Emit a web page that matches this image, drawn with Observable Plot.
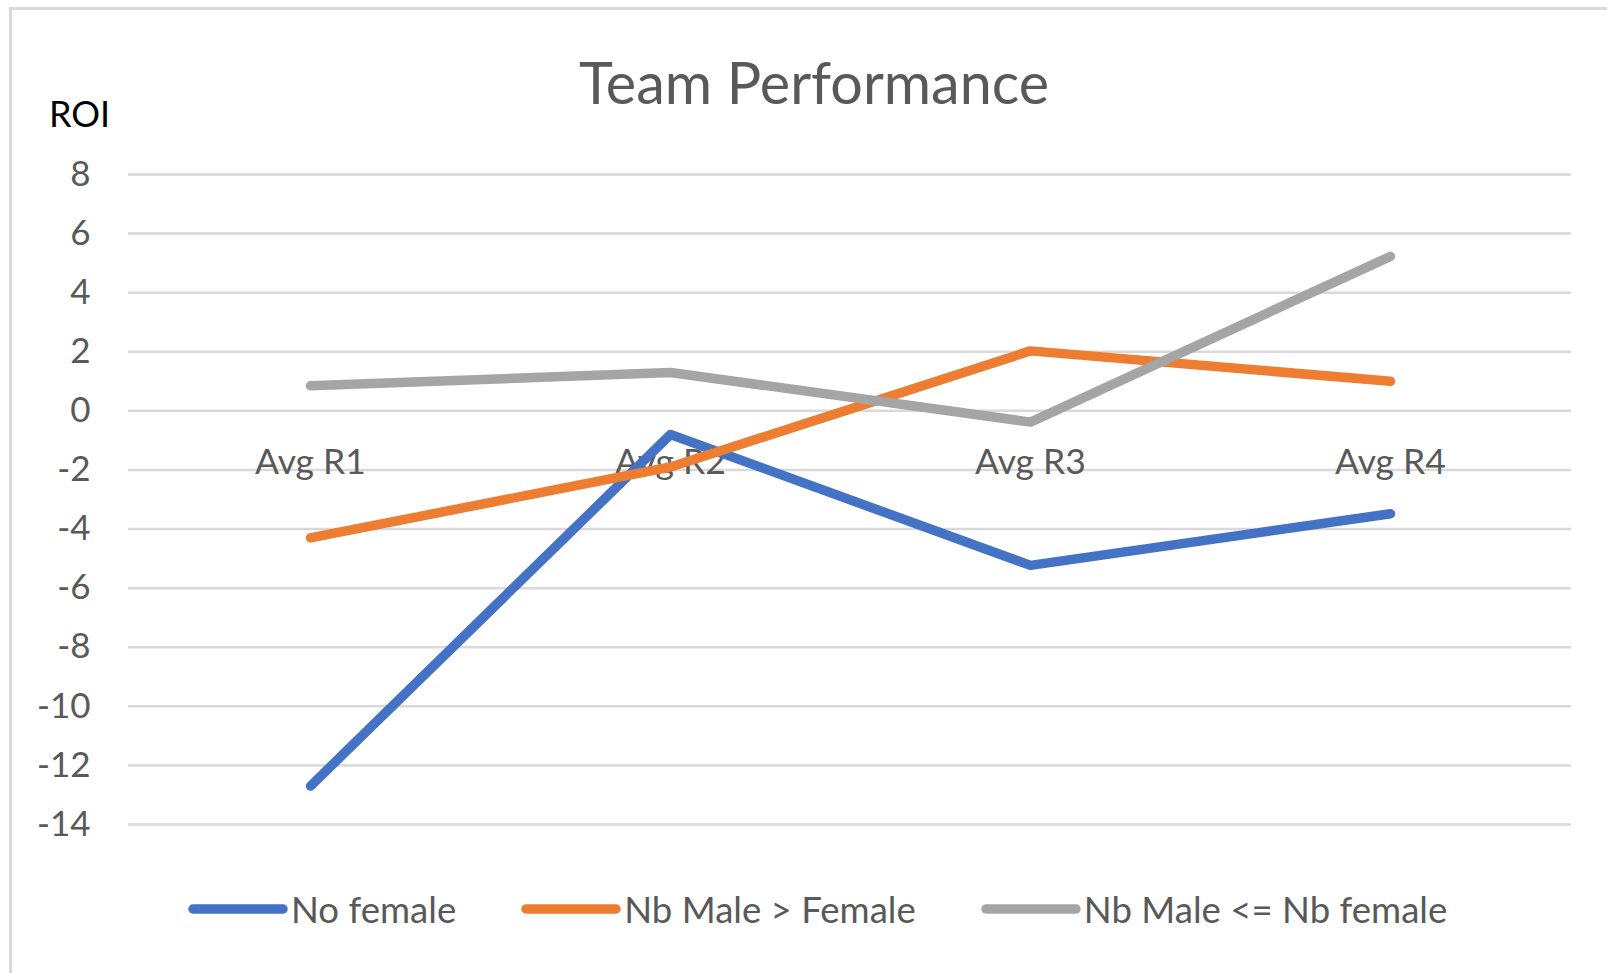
<!DOCTYPE html>
<html>
<head>
<meta charset="utf-8">
<script src="https://cdn.jsdelivr.net/npm/d3@7"></script>
<script src="https://cdn.jsdelivr.net/npm/@observablehq/plot@0.6"></script>
<style>
  html, body { margin: 0; padding: 0; background: #ffffff; }
  body { width: 1607px; height: 973px; position: relative; overflow: hidden; font-family: Lato, "Open Sans", sans-serif; }
  #frame { position: absolute; left: 9px; top: 7px; width: 1620px; height: 1000px; border: 3px solid #d9d9d9; box-sizing: border-box; }
  #title { position: absolute; left: 0; width: 1628px; top: 53px; text-align: center; font-size: 57.5px; color: #595959; line-height: 1; }
  #roi { position: absolute; left: 49px; top: 95px; font-size: 36px; color: #000000; line-height: 1; }
  #chart { position: absolute; left: 0; top: 0; }
  #legend { position: absolute; left: 188px; top: 891px; display: flex; align-items: center; gap: 65px; font-size: 36.6px; color: #595959; line-height: 1; }
  .item { display: flex; align-items: center; gap: 3px; }
</style>
</head>
<body>
<div id="frame"></div>
<div id="chart"></div>
<div id="title">Team Performance</div>
<div id="roi">ROI</div>
<div id="legend"></div>
<script>
// ---- data ----
const categories = ["Avg R1", "Avg R2", "Avg R3", "Avg R4"];
const seriesNames = ["No female", "Nb Male > Female", "Nb Male <= Nb female"];
const noFemale = [-12.7, -0.8, -5.23, -3.48];
const nbMaleGtFemale = [-4.3, -1.9, 2.03, 1.0];
const nbMaleLeFemale = [0.85, 1.3, -0.38, 5.23];
const yTicks = [8, 6, 4, 2, 0, -2, -4, -6, -8, -10, -12, -14];
const seriesColors = ["#4472C4", "#ED7D31", "#A5A5A5"];

const seriesValues = [noFemale, nbMaleGtFemale, nbMaleLeFemale];
const rows = [];
seriesNames.forEach((s, i) => {
  categories.forEach((c, j) => rows.push({series: s, cat: c, value: seriesValues[i][j]}));
});

const fmt = d => (d < 0 ? "-" + Math.abs(d) : String(d));

const chart = Plot.plot({
  width: 1607,
  height: 860,
  marginLeft: 128,
  marginRight: 36,
  marginTop: 174,
  marginBottom: 36,
  style: {fontFamily: "Lato, 'Open Sans', sans-serif", background: "transparent", overflow: "visible"},
  x: {type: "point", domain: categories, padding: 0.5, axis: null},
  y: {domain: [-14, 8], axis: null},
  color: {domain: seriesNames, range: seriesColors},
  marks: [
    Plot.gridY(yTicks, {stroke: "#d9d9d9", strokeOpacity: 1, strokeWidth: 2.5}),
    Plot.axisY(yTicks, {tickSize: 0, tickPadding: 38, fontSize: 35, fill: "#595959", tickFormat: fmt, label: null}),
    Plot.text(categories, {x: d => d, y: () => 0, dy: 52, text: d => d, fontSize: 35.5, fill: "#595959", textAnchor: "middle"}),
    Plot.line(rows, {x: "cat", y: "value", z: "series", stroke: "series", strokeWidth: 9.5, strokeLinecap: "round", strokeLinejoin: "round"})
  ]
});
document.getElementById("chart").appendChild(chart);

// ---- legend ----
const legend = document.getElementById("legend");
seriesNames.forEach((s, i) => {
  const item = document.createElement("div");
  item.className = "item";
  item.innerHTML = `<svg width="100" height="14"><line x1="5" y1="7" x2="95" y2="7" stroke="${seriesColors[i]}" stroke-width="9.5" stroke-linecap="round"/></svg><span>${s.replace(/</g, "&lt;").replace(/>/g, "&gt;")}</span>`;
  legend.appendChild(item);
});
</script>
</body>
</html>
